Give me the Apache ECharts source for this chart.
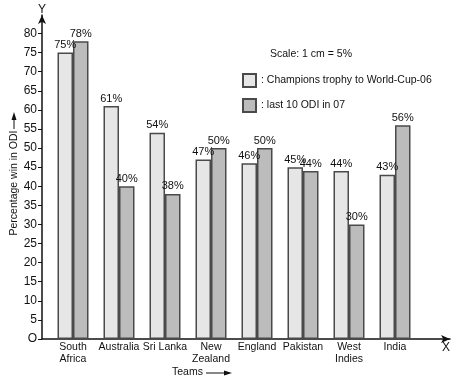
<!DOCTYPE html>
<html>
<head>
<meta charset="utf-8">
<script src="https://cdn.jsdelivr.net/npm/echarts@6/dist/echarts.min.js"></script>
<style>
html,body{margin:0;padding:0;background:#fff;}
#c{width:459px;height:380px;}
</style>
</head>
<body>
<div id="c"></div>
<script>
var categories = ['South\nAfrica', 'Australia', 'Sri Lanka', 'New\nZealand', 'England', 'Pakistan', 'West\nIndies', 'India'];
var championsTrophy = [75, 61, 54, 47, 46, 45, 44, 43];
var last10ODI = [78, 40, 38, 50, 50, 44, 30, 56];
var seriesNames = ['Champions trophy to World-Cup-06', 'last 10 ODI in 07'];
var yMin = 0, yMax = 80, yStep = 5;

var FONT = '"Liberation Sans", Arial, Helvetica, sans-serif';
var chart = echarts.init(document.getElementById('c'), null, {renderer: 'canvas'});

var barLabel = {
  show: true, position: 'top', distance: 2,
  formatter: '{c}%', color: '#111', fontSize: 11, fontFamily: FONT
};

function arrowHead(x, y, dir) {
  var pts = dir === 'r' ? [[x, y], [x - 8, y - 2.5], [x - 8, y + 2.5]]
                        : [[x, y], [x - 2.5, y + 8], [x + 2.5, y + 8]];
  return {type: 'polygon', shape: {points: pts}, style: {fill: '#111'}};
}

chart.setOption({
  animation: false,
  backgroundColor: '#fff',
  textStyle: {fontFamily: FONT},
  grid: [
    {left: 50, right: 41, top: 33.5, bottom: 41, outerBoundsMode: 'none', containLabel: false},
    {left: 42, right: 9, top: 15, bottom: 41, outerBoundsMode: 'none', containLabel: false}
  ],
  legend: {
    orient: 'vertical', left: 242, top: 73, padding: 0,
    itemWidth: 13, itemHeight: 13, itemGap: 10, icon: 'rect',
    formatter: ': {name}',
    textStyle: {fontSize: 10.5, color: '#111', fontFamily: FONT},
    data: seriesNames
  },
  xAxis: [
    {
      type: 'category', gridIndex: 0, data: categories,
      axisLine: {show: false}, axisTick: {show: false},
      axisLabel: {color: '#111', fontSize: 10.5, fontFamily: FONT, margin: 2, lineHeight: 12, interval: 0}
    },
    {
      type: 'value', gridIndex: 1, min: 0, max: 1,
      axisLine: {show: true, lineStyle: {color: '#111', width: 1.5}, symbol: ['none', 'arrow'], symbolSize: [6, 9]},
      axisTick: {show: false}, axisLabel: {show: false}, splitLine: {show: false}
    }
  ],
  yAxis: [
    {
      type: 'value', gridIndex: 0, min: yMin, max: yMax, interval: yStep, offset: 8,
      axisLine: {show: false},
      axisTick: {show: true, length: 4, lineStyle: {color: '#111', width: 1}},
      axisLabel: {color: '#111', fontSize: 12, fontFamily: FONT, margin: 5,
        formatter: function (v) { return v === 0 ? 'O' : String(v); }},
      splitLine: {show: false}
    },
    {
      type: 'value', gridIndex: 1, min: 0, max: 1,
      axisLine: {show: true, lineStyle: {color: '#111', width: 1.5}, symbol: ['none', 'arrow'], symbolSize: [6, 9]},
      axisTick: {show: false}, axisLabel: {show: false}, splitLine: {show: false}
    }
  ],
  graphic: [
    {type: 'text', left: 38, top: 4, style: {text: 'Y', fontSize: 12, fill: '#111', fontFamily: FONT}},
    {type: 'text', left: 442, top: 342, style: {text: 'X', fontSize: 12, fill: '#111', fontFamily: FONT}},
    {type: 'text', left: 172, top: 367, style: {text: 'Teams', fontSize: 10.5, fill: '#111', fontFamily: FONT}},
    {type: 'group', children: [
      {type: 'line', shape: {x1: 206, y1: 373, x2: 226, y2: 373}, style: {stroke: '#111', lineWidth: 1}},
      arrowHead(232, 373, 'r')
    ]},
    {type: 'text', x: 14, y: 183, rotation: Math.PI / 2,
      style: {text: 'Percentage win in ODI', fontSize: 10.5, fill: '#111', fontFamily: FONT, align: 'center', verticalAlign: 'middle'}},
    {type: 'group', children: [
      {type: 'line', shape: {x1: 14, y1: 129, x2: 14, y2: 119}, style: {stroke: '#111', lineWidth: 1}},
      arrowHead(14, 112, 'u')
    ]},
    {type: 'text', left: 270, top: 49, style: {text: 'Scale: 1 cm = 5%', fontSize: 10.5, fill: '#111', fontFamily: FONT}}
  ],
  series: [
    {
      name: seriesNames[0], type: 'bar', xAxisIndex: 0, yAxisIndex: 0,
      data: championsTrophy, barWidth: 15.5, barGap: '0%',
      itemStyle: {color: '#e6e6e6', borderColor: '#4a4a4a', borderWidth: 1.5},
      label: barLabel
    },
    {
      name: seriesNames[1], type: 'bar', xAxisIndex: 0, yAxisIndex: 0,
      data: last10ODI, barWidth: 15.5, barGap: '0%',
      itemStyle: {color: '#bcbcbc', borderColor: '#4a4a4a', borderWidth: 1.5},
      label: barLabel
    }
  ]
});
</script>
</body>
</html>
